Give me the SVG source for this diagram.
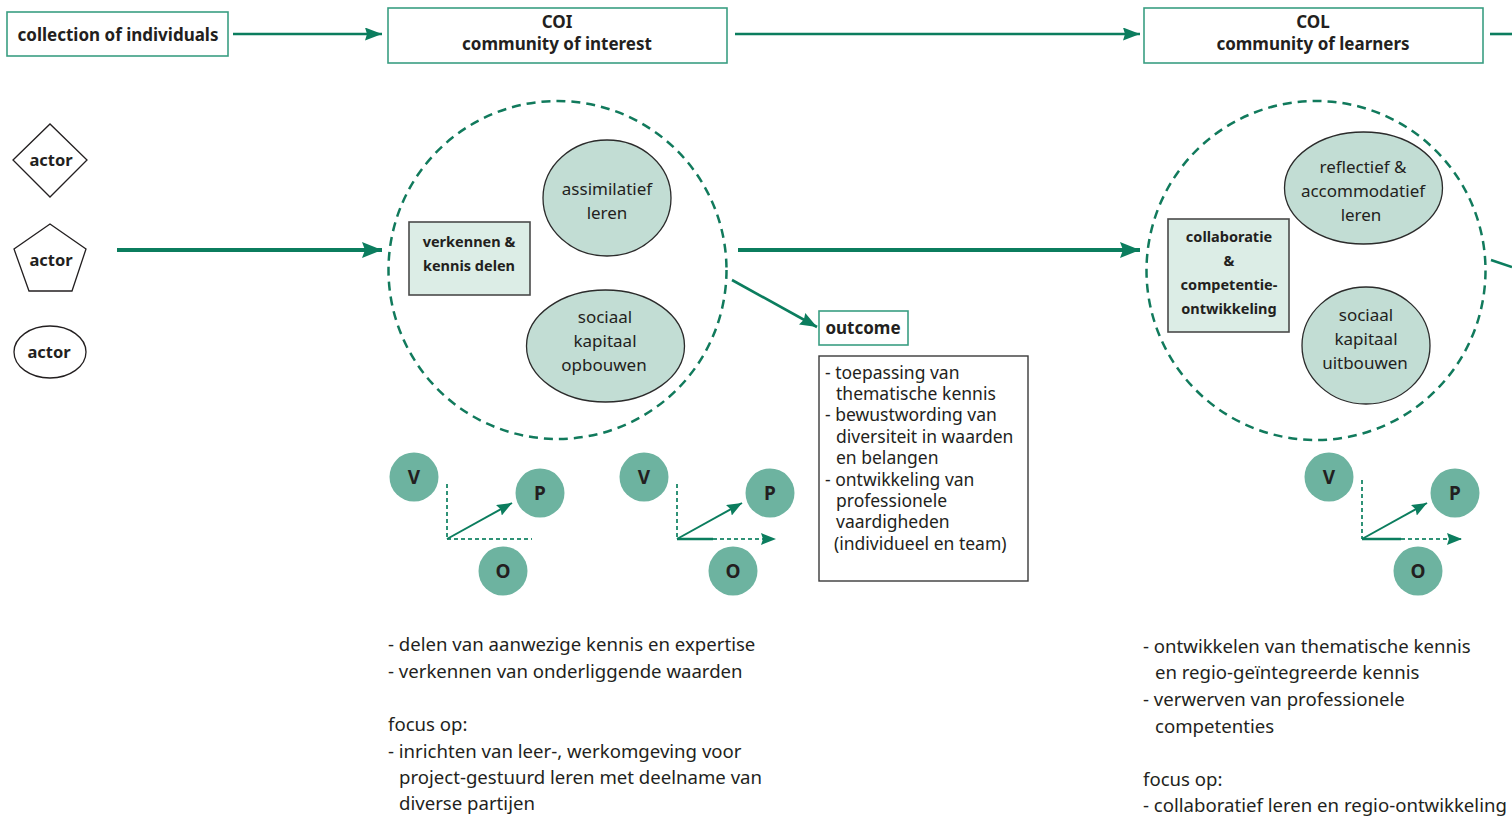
<svg xmlns="http://www.w3.org/2000/svg" width="1512" height="816" viewBox="0 0 1512 816">
  <defs>
    <marker id="headL" markerUnits="userSpaceOnUse" markerWidth="20" markerHeight="16" refX="20" refY="8" orient="auto">
      <path d="M0,0 L20,8 L0,16 L3,8 z" fill="#0b7d5e"/>
    </marker>
    <marker id="headM" markerUnits="userSpaceOnUse" markerWidth="17" markerHeight="13" refX="17" refY="6.5" orient="auto">
      <path d="M0,0 L17,6.5 L0,13 L2,6.5 z" fill="#0b7d5e"/>
    </marker>
    <marker id="headS" markerUnits="userSpaceOnUse" markerWidth="15" markerHeight="12" refX="15" refY="6" orient="auto">
      <path d="M0,0 L15,6 L0,12 L2,6 z" fill="#0b7d5e"/>
    </marker>
  </defs>
  <style>
    text { font-family: "Noto Sans", "Open Sans", sans-serif; fill: #231f20; }
    .b { font-weight: bold; }
    .t17 { font-size: 17px; }
    .t15 { font-size: 14.5px; }
    .t16 { font-size: 16.5px; }
    .body { font-size: 17.5px; }
    .big { font-size: 18.6px; }
    .lbl { font-size: 19px; }
    .mid { text-anchor: middle; }
    .stage { fill: #ffffff; stroke: #3a9e82; stroke-width: 1.6; }
    .actor { fill: #ffffff; stroke: #231f20; stroke-width: 1.3; }
    .act { fill: #dcede6; stroke: #4a4a4a; stroke-width: 1.6; }
    .learn { fill: #c2ddd4; stroke: #2b2b2b; stroke-width: 1.3; }
    .space { fill: none; stroke: #117a5c; stroke-width: 2.5; stroke-dasharray: 9 6; }
    .vpo { fill: #6db3a0; }
    .list { fill: #ffffff; stroke: #3a3a3a; stroke-width: 1.4; }
    .flowT { stroke: #0b7d5e; stroke-width: 2.6; fill: none; }
    .flowM { stroke: #0b7d5e; stroke-width: 4; fill: none; }
    .flowO { stroke: #0b7d5e; stroke-width: 2.6; fill: none; }
    .axis { stroke: #2f9276; stroke-width: 2; stroke-dasharray: 4 3; fill: none; }
    .vec { stroke: #0b7d5e; stroke-width: 2; fill: none; }
    .vecH { stroke: #0b7d5e; stroke-width: 2.6; fill: none; }
  </style>

  <!-- stage headers -->
  <g id="stage-individuals">
    <rect class="stage" x="7" y="12" width="221" height="44"/>
    <text class="b t17 mid" x="118" y="41">collection of individuals</text>
  </g>
  <g id="stage-coi">
    <rect class="stage" x="388" y="8" width="339" height="55"/>
    <text class="b t17 mid" x="557" y="28">COI</text>
    <text class="b t17 mid" x="557" y="50">community of interest</text>
  </g>
  <g id="stage-col">
    <rect class="stage" x="1144" y="8" width="339" height="55"/>
    <text class="b t17 mid" x="1313" y="28">COL</text>
    <text class="b t17 mid" x="1313" y="50">community of learners</text>
  </g>

  <!-- actors -->
  <g id="actor-diamond">
    <polygon class="actor" points="13,160 50,124 87,160 50,197"/>
    <text class="b t16 mid" x="51" y="166">actor</text>
  </g>
  <g id="actor-pentagon">
    <polygon class="actor" points="50,224 86,249 72,291 29,291 14,249"/>
    <text class="b t16 mid" x="51" y="266">actor</text>
  </g>
  <g id="actor-ellipse">
    <ellipse class="actor" cx="50" cy="352" rx="36" ry="26"/>
    <text class="b t16 mid" x="49" y="358">actor</text>
  </g>

  <!-- community of interest -->
  <g id="coi-space">
    <circle class="space" cx="557.5" cy="270" r="169"/>
  </g>
  <g id="coi-activity">
    <rect class="act" x="409" y="222" width="121" height="73"/>
    <text class="b t15 mid" x="469" y="247">verkennen &amp;</text>
    <text class="b t15 mid" x="469" y="271">kennis delen</text>
  </g>
  <g id="coi-learning">
    <ellipse class="learn" cx="607" cy="198" rx="64" ry="58"/>
    <text class="t17 mid" x="607" y="195">assimilatief</text>
    <text class="t17 mid" x="607" y="219">leren</text>
  </g>
  <g id="coi-social">
    <ellipse class="learn" cx="605.5" cy="346" rx="79" ry="56"/>
    <text class="t17 mid" x="605" y="323">sociaal</text>
    <text class="t17 mid" x="605" y="347">kapitaal</text>
    <text class="t17 mid" x="604" y="371">opbouwen</text>
  </g>

  <!-- community of learners -->
  <g id="col-space">
    <circle class="space" cx="1316" cy="270.5" r="169.5"/>
  </g>
  <g id="col-activity">
    <rect class="act" x="1168" y="219" width="121" height="113"/>
    <text class="b t15 mid" x="1229" y="242">collaboratie</text>
    <text class="b t15 mid" x="1229" y="266">&amp;</text>
    <text class="b t15 mid" x="1229" y="290">competentie-</text>
    <text class="b t15 mid" x="1229" y="314">ontwikkeling</text>
  </g>
  <g id="col-learning">
    <ellipse class="learn" cx="1363.5" cy="188" rx="79" ry="56"/>
    <text class="t17 mid" x="1363" y="173">reflectief &amp;</text>
    <text class="t17 mid" x="1363" y="197">accommodatief</text>
    <text class="t17 mid" x="1361" y="221">leren</text>
  </g>
  <g id="col-social">
    <ellipse class="learn" cx="1366" cy="345.5" rx="64" ry="58.5"/>
    <text class="t17 mid" x="1366" y="321">sociaal</text>
    <text class="t17 mid" x="1366" y="345">kapitaal</text>
    <text class="t17 mid" x="1365" y="369">uitbouwen</text>
  </g>

  <!-- outcome -->
  <g id="outcome">
    <rect class="stage" x="819" y="311" width="89" height="34"/>
    <text class="b t17 mid" x="863" y="334">outcome</text>
  </g>
  <g id="outcome-list">
    <rect class="list" x="819" y="356" width="209" height="225"/>
    <text class="body" x="825" y="379">- toepassing van</text>
    <text class="body" x="836" y="400">thematische kennis</text>
    <text class="body" x="825" y="421">- bewustwording van</text>
    <text class="body" x="836" y="443">diversiteit in waarden</text>
    <text class="body" x="836" y="464">en belangen</text>
    <text class="body" x="825" y="486">- ontwikkeling van</text>
    <text class="body" x="836" y="507">professionele</text>
    <text class="body" x="836" y="528">vaardigheden</text>
    <text class="body" x="834" y="550">(individueel en team)</text>
  </g>

  <!-- V-P-O orientation figures -->
  <g id="vpo-coi-1">
    <circle class="vpo" cx="414" cy="477" r="24.5"/>
    <circle class="vpo" cx="540" cy="493" r="24.5"/>
    <circle class="vpo" cx="503" cy="571" r="24.5"/>
    <text class="b lbl mid" x="414" y="484">V</text>
    <text class="b lbl mid" x="540" y="500">P</text>
    <text class="b lbl mid" x="503" y="578">O</text>
    <line class="axis" x1="447" y1="484" x2="447" y2="539"/>
    <line class="axis" x1="447" y1="539" x2="532" y2="539"/>
    <line class="vec" x1="447" y1="539" x2="512" y2="503" marker-end="url(#headS)"/>
  </g>
  <g id="vpo-coi-2">
    <circle class="vpo" cx="644" cy="477" r="24.5"/>
    <circle class="vpo" cx="770" cy="493" r="24.5"/>
    <circle class="vpo" cx="733" cy="571" r="24.5"/>
    <text class="b lbl mid" x="644" y="484">V</text>
    <text class="b lbl mid" x="770" y="500">P</text>
    <text class="b lbl mid" x="733" y="578">O</text>
    <line class="axis" x1="677" y1="484" x2="677" y2="539"/>
    <line class="vecH" x1="677" y1="539" x2="713" y2="539"/>
    <line class="axis" x1="713" y1="539" x2="776" y2="539" marker-end="url(#headS)"/>
    <line class="vec" x1="677" y1="539" x2="742" y2="503" marker-end="url(#headS)"/>
  </g>
  <g id="vpo-col">
    <circle class="vpo" cx="1329" cy="477" r="24.5"/>
    <circle class="vpo" cx="1455" cy="493" r="24.5"/>
    <circle class="vpo" cx="1418" cy="571" r="24.5"/>
    <text class="b lbl mid" x="1329" y="484">V</text>
    <text class="b lbl mid" x="1455" y="500">P</text>
    <text class="b lbl mid" x="1418" y="578">O</text>
    <line class="axis" x1="1362" y1="480" x2="1362" y2="539"/>
    <line class="vecH" x1="1362" y1="539" x2="1401" y2="539"/>
    <line class="axis" x1="1401" y1="539" x2="1462" y2="539" marker-end="url(#headS)"/>
    <line class="vec" x1="1362" y1="539" x2="1427" y2="503" marker-end="url(#headS)"/>
  </g>

  <!-- descriptions -->
  <g id="coi-notes">
    <text class="big" x="388" y="650.5">- delen van aanwezige kennis en expertise</text>
    <text class="big" x="388" y="677.5">- verkennen van onderliggende waarden</text>
    <text class="big" x="388" y="730.5">focus op:</text>
    <text class="big" x="388" y="757.5">- inrichten van leer-, werkomgeving voor</text>
    <text class="big" x="399" y="783.5">project-gestuurd leren met deelname van</text>
    <text class="big" x="399" y="809.5">diverse partijen</text>
  </g>
  <g id="col-notes">
    <text class="big" x="1143" y="652.5">- ontwikkelen van thematische kennis</text>
    <text class="big" x="1155" y="678.5">en regio-geïntegreerde kennis</text>
    <text class="big" x="1143" y="705.5">- verwerven van professionele</text>
    <text class="big" x="1155" y="732.5">competenties</text>
    <text class="big" x="1143" y="785.5">focus op:</text>
    <text class="big" x="1143" y="811.5">- collaboratief leren en regio-ontwikkeling</text>
  </g>

  <!-- connectors -->
  <g id="connectors">
    <line class="flowT" x1="233" y1="34" x2="382" y2="34" marker-end="url(#headM)"/>
    <line class="flowT" x1="735" y1="34" x2="1140" y2="34" marker-end="url(#headM)"/>
    <line class="flowT" x1="1490" y1="34" x2="1512" y2="34"/>
    <line class="flowM" x1="117" y1="250" x2="382" y2="250" marker-end="url(#headL)"/>
    <line class="flowM" x1="738" y1="250" x2="1140" y2="250" marker-end="url(#headL)"/>
    <line class="flowO" x1="732" y1="280" x2="817" y2="327" marker-end="url(#headM)"/>
    <line class="flowO" x1="1491" y1="260" x2="1512" y2="267"/>
  </g>
</svg>
